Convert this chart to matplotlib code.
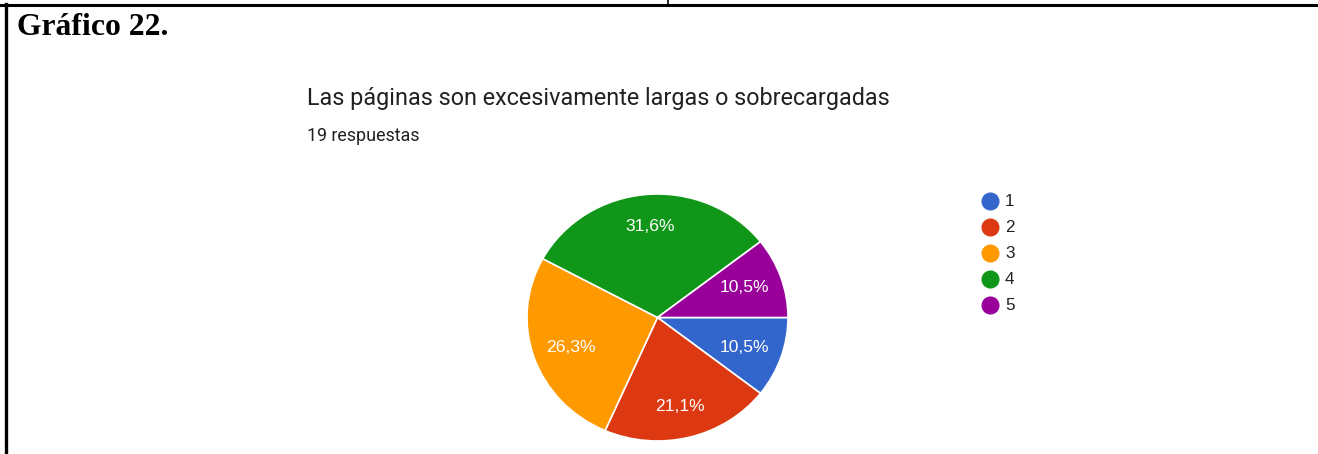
import matplotlib
matplotlib.use('Agg')
import matplotlib.pyplot as plt
from matplotlib.lines import Line2D

# data
categorias = ['1', '2', '3', '4', '5']
respuestas = [2, 4, 5, 6, 2]
colores = ['#3366cc', '#dc3912', '#ff9900', '#109618', '#990099']
titulo = 'Las páginas son excesivamente largas o sobrecargadas'
subtitulo = '19 respuestas'

W, H = 1318, 454
fig = plt.figure(figsize=(W / 100, H / 100), dpi=100)
fig.patch.set_facecolor('white')

def fx(px):
    return px / W

def fy(py):
    return 1 - py / H

# borde de la tabla
fig.add_artist(Line2D([0, 1], [fy(5), fy(5)], color='black', lw=2.2))
fig.add_artist(Line2D([fx(5.5), fx(5.5)], [0, fy(4)], color='black', lw=2.4))
fig.add_artist(Line2D([fx(668), fx(668)], [fy(0), fy(5)], color='black', lw=1.2))

fig.text(fx(17), fy(27.5), 'Gráfico 22.', family='Liberation Serif',
         fontweight='bold', fontsize=22.8, va='center', ha='left')

fig.text(fx(307), fy(98), titulo, family='Roboto', fontsize=16.8,
         color='#212121', va='center', ha='left')
fig.text(fx(307), fy(136), subtitulo, family='Roboto', fontsize=12.9,
         color='#212121', va='center', ha='left')

# pie (ligeramente achatado como en la captura)
cx, cy, rx, ry = 657.5, 317.5, 130.5, 123.5
ax = fig.add_axes([fx(cx - rx), fy(cy + ry), 2 * rx / W, 2 * ry / H])
wedges, textos, autotextos = ax.pie(
    respuestas, colors=colores, startangle=0, counterclock=False,
    autopct=lambda p: ('%.1f%%' % p).replace('.', ','), pctdistance=0.7,
    wedgeprops=dict(edgecolor='white', linewidth=1.2),
    textprops=dict(color='white', family='Liberation Sans', fontsize=12.6))
for w in wedges:
    w.set_clip_on(False)
# etiquetas a distancia circular (en píxeles), no elíptica
for t in autotextos:
    x, y = t.get_position()
    t.set_position((x, y * rx / ry))
ax.set_xlim(-1, 1)
ax.set_ylim(-1, 1)
ax.set_aspect('auto')
ax.axis('off')

# leyenda
for i, (cat, col) in enumerate(zip(categorias, colores)):
    y = 201 + i * 26
    fig.add_artist(Line2D([fx(990)], [fy(y)], marker='o', markersize=12,
                          color=col, linestyle='none'))
    fig.text(fx(1005), fy(y), cat, family='Liberation Sans', fontsize=12.3,
             color='#212121', va='center', ha='left')

fig.savefig('out.png', dpi=100)
